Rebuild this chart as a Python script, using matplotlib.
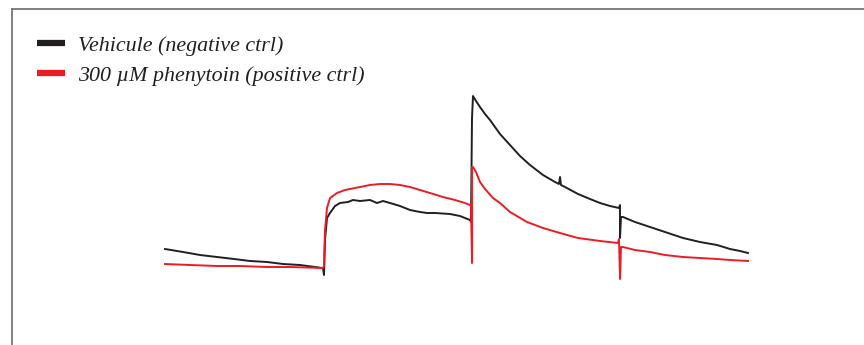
import matplotlib.pyplot as plt
from matplotlib.lines import Line2D

# time (ms) and current (arbitrary units, baseline = 0)
vehicle_t = [0, 18, 35, 52, 69, 85, 102, 118, 135, 150, 157, 158, 159, 160, 162,
             165, 170, 175, 183, 188, 195, 205, 212, 218, 225, 235, 245, 255,
             262, 270, 285, 295, 305, 306, 307,
             308, 311, 315, 320, 325, 330, 335, 345, 355, 365, 378, 390, 394,
             395, 396, 400, 413, 425, 435, 445, 454, 455, 455, 456, 458, 470,
             485, 500, 518, 535, 552, 565, 575, 583]
vehicle_i = [19, 16, 13, 11, 9, 7, 6, 4, 3, 1, 0, 0, -7, 28, 50,
             55, 62, 65, 66, 68, 67, 68, 65, 67, 65, 62, 58, 56,
             55, 55, 54, 52, 48, 46, 150,
             172, 167, 161, 154, 148, 141, 134, 123, 112, 103, 93, 86, 84,
             91, 83, 81, 74, 69, 65, 62, 60, 63, 30, 51, 51, 46,
             41, 36, 30, 26, 23, 19, 17, 15]

phenytoin_t = [0, 25, 52, 75, 102, 125, 157, 158, 159, 160, 162, 165, 172, 180,
               195, 205, 215, 225, 235, 245, 255, 265, 278, 290, 300, 305, 306,
               307, 307, 308, 311, 315, 320, 328, 335, 345, 362, 378, 395, 413,
               435, 453, 454, 455, 456, 458, 470, 485, 500, 518, 535, 552, 565,
               583]
phenytoin_i = [4, 3, 2, 2, 1, 1, 0, 0, 2, 38, 60, 70, 75, 78, 81, 83, 84, 84,
               83, 81, 78, 75, 71, 68, 65, 63, 62, 5, 101, 101, 96, 86, 79, 70,
               65, 56, 46, 40, 35, 30, 27, 25, 29, -11, 21, 21, 18, 16, 13, 11,
               10, 9, 8, 7]

legend_labels = ["Vehicule (negative ctrl)", "300 \u00b5M phenytoin (positive ctrl)"]
colors = ["#231f20", "#ed1c24"]

fig = plt.figure(figsize=(8.64, 3.45), dpi=100)
ax = fig.add_axes([0, 0, 1, 1])
ax.plot(vehicle_t, vehicle_i, color=colors[0], lw=1.4)
ax.plot(phenytoin_t, phenytoin_i, color=colors[1], lw=1.4)
ax.set_xlim(-165, 699)
ax.set_ylim(-77, 268)
ax.axis("off")

# frame: left and top edges only
fig.add_artist(Line2D([12 / 864, 12 / 864], [0, 1 - 9 / 345], color="#777777", lw=1.3))
fig.add_artist(Line2D([12 / 864, 1], [1 - 9 / 345, 1 - 9 / 345], color="#777777", lw=1.3))

# legend drawn by hand
for k, (lab, c) in enumerate(zip(legend_labels, colors)):
    yy = 1 - (43 + 30 * k) / 345
    fig.add_artist(Line2D([37 / 864, 65 / 864], [yy, yy], color=c, lw=4.5,
                          solid_capstyle="butt"))
    fig.text(78 / 864, yy - 0.008, lab, fontsize=15.8, style="italic",
             family=["Liberation Serif", "DejaVu Serif"], va="center",
             color="#231f20")

fig.savefig("out.png", dpi=100)
